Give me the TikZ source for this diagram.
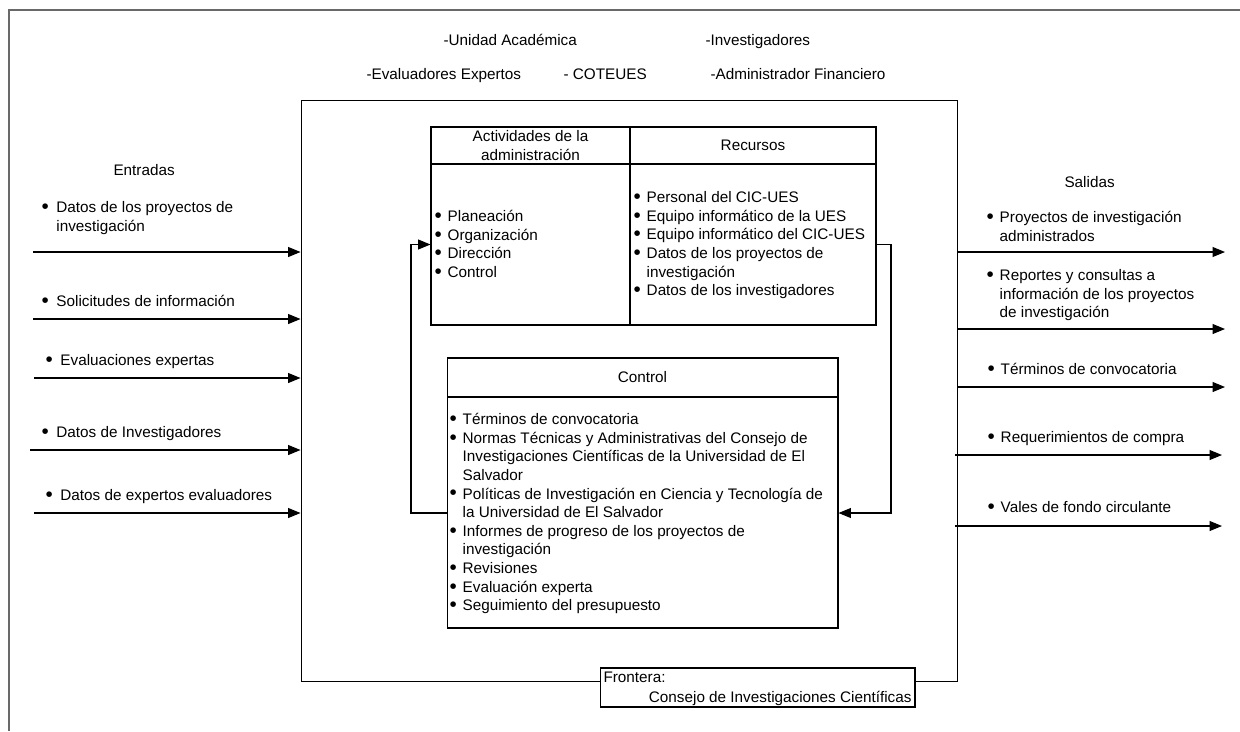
\documentclass[tikz,border=0pt]{standalone}
\usepackage{fontspec}
\setmainfont{Liberation Sans}
\usetikzlibrary{arrows.meta}
\definecolor{framegray}{RGB}{105,105,105}
\newcommand{\itm}[1][7.5pt]{\makebox[#1][l]{\raisebox{-0.5pt}{\scalebox{1.35}{\textbullet}}}\ignorespaces}
\newcommand{\itmc}[1][7.5pt]{\hspace*{#1}\ignorespaces}

\begin{document}
\begin{tikzpicture}[x=0.02cm,y=-0.02cm,>={Triangle[length=7pt,width=5.6pt]},
  font=\fontsize{8.7}{10.6}\selectfont,line width=0.6pt,
  cell/.style={draw,inner sep=0pt,align=center},
  lst/.style={inner sep=0pt,anchor=base west}]
  \useasboundingbox (0,0) rectangle (1240,731);
  \draw[framegray,line width=0.9pt] (9,731) -- (9,10) -- (1240,10);
  % actores del entorno
  \node[lst] (ua) at (443,45.5) {-Unidad Académica};
  \node[lst] (inv) at (705,45.5) {-Investigadores};
  \node[lst] (eva) at (366,79.5) {-Evaluadores Expertos};
  \node[lst] (cot) at (563,79.5) {- COTEUES};
  \node[lst] (adm) at (710,79.5) {-Administrador Financiero};
  % sistema
  \node[draw,inner sep=0pt,minimum width=13.14cm,minimum height=11.64cm] (sys) at (629.5,391) {};
  \node[cell,minimum width=3.98cm,minimum height=0.74cm] (acth) at (530.5,145.5) {Actividades de la\\administración};
  \node[cell,minimum width=4.92cm,minimum height=0.74cm] (resh) at (753,145.5) {Recursos};
  \node[cell,minimum width=3.98cm,minimum height=3.22cm] (actb) at (530.5,244.5) {};
  \node[cell,minimum width=4.92cm,minimum height=3.22cm] (resb) at (753,244.5) {};
  \node[lst] (actl) at (434,221.5) {\begin{tabular}[t]{@{}l@{}}
    \itm Planeación\\ \itm Organización\\ \itm Dirección\\ \itm Control\end{tabular}};
  \node[lst] (resl) at (633,202.5) {\begin{tabular}[t]{@{}l@{}}
    \itm Personal del CIC-UES\\ \itm Equipo informático de la UES\\
    \itm Equipo informático del CIC-UES\\ \itm Datos de los proyectos de\\
    \itmc investigación\\ \itm Datos de los investigadores\end{tabular}};
  \node[cell,minimum width=7.82cm,minimum height=0.78cm] (ctlh) at (642.5,377.5) {Control};
  \node[cell,minimum width=7.82cm,minimum height=4.62cm] (ctlb) at (642.5,512.5) {};
  \node[lst] (ctll) at (449,424.5) {\begin{tabular}[t]{@{}l@{}}
    \itm Términos de convocatoria\\
    \itm Normas Técnicas y Administrativas del Consejo de\\
    \itmc Investigaciones Científicas de la Universidad de El\\
    \itmc Salvador\\
    \itm Políticas de Investigación en Ciencia y Tecnología de\\
    \itmc la Universidad de El Salvador\\
    \itm Informes de progreso de los proyectos de\\
    \itmc investigación\\
    \itm Revisiones\\ \itm Evaluación experta\\ \itm Seguimiento del presupuesto\end{tabular}};
  % retroalimentacion
  \coordinate (lp) at (411,513);
  \coordinate (rp) at (891,513);
  \draw[->] (ctlb.west |- lp) -- (lp) |- (actb.west);
  \draw[->] (resb.east) -| (rp) -- (ctlb.east |- rp);
  % frontera
  \node[draw,fill=white,inner sep=0pt,minimum width=6.3cm,minimum height=0.78cm] (front) at (757.5,687.5) {};
  \node[lst] (fr1) at (603,682.5) {Frontera:};
  \node[inner sep=0pt,anchor=base east] (fr2) at (912,702.5) {Consejo de Investigaciones Científicas};
  % entradas
  \node[lst] (ent) at (113,175.5) {Entradas};
  \node[lst] (e1) at (41,212.5) {\begin{tabular}[t]{@{}l@{}}\itm[8.5pt] Datos de los proyectos de\\ \itmc[8.5pt] investigación\end{tabular}};
  \node[lst] (e2) at (41,306.5) {\itm[8.5pt] Solicitudes de información};
  \node[lst] (e3) at (45,365.5) {\itm[8.5pt] Evaluaciones expertas};
  \node[lst] (e4) at (41,437.5) {\itm[8.5pt] Datos de Investigadores};
  \node[lst] (e5) at (45,500.5) {\itm[8.5pt] Datos de expertos evaluadores};
  \coordinate (i1) at (33,252);
  \coordinate (i2) at (33,319);
  \coordinate (i3) at (34,378);
  \coordinate (i4) at (30,450);
  \coordinate (i5) at (34,513);
  \foreach \c in {i1,i2,i3,i4,i5}
    \draw[->] (\c) -- (\c -| sys.west);
  % salidas
  \node[lst] (sal) at (1064,187.5) {Salidas};
  \node[lst] (s1) at (986,222.5) {\begin{tabular}[t]{@{}l@{}}\itm Proyectos de investigación\\ \itmc administrados\end{tabular}};
  \node[lst] (s2) at (986,280.5) {\begin{tabular}[t]{@{}l@{}}\itm Reportes y consultas a\\ \itmc información de los proyectos\\ \itmc de investigación\end{tabular}};
  \node[lst] (s3) at (987,374.5) {\itm Términos de convocatoria};
  \node[lst] (s4) at (987,442.5) {\itm Requerimientos de compra};
  \node[lst] (s5) at (987,512.5) {\itm Vales de fondo circulante};
  \coordinate (o1) at (1225,252);
  \coordinate (o2) at (1225,329);
  \coordinate (o3) at (1225,387);
  \coordinate (o4s) at (955,455);
  \coordinate (o4) at (1222,455);
  \coordinate (o5s) at (955,526);
  \coordinate (o5) at (1222,526);
  \foreach \c in {o1,o2,o3}
    \draw[->] (sys.east |- \c) -- (\c);
  \draw[->] (o4s) -- (o4);
  \draw[->] (o5s) -- (o5);
\end{tikzpicture}
\end{document}
